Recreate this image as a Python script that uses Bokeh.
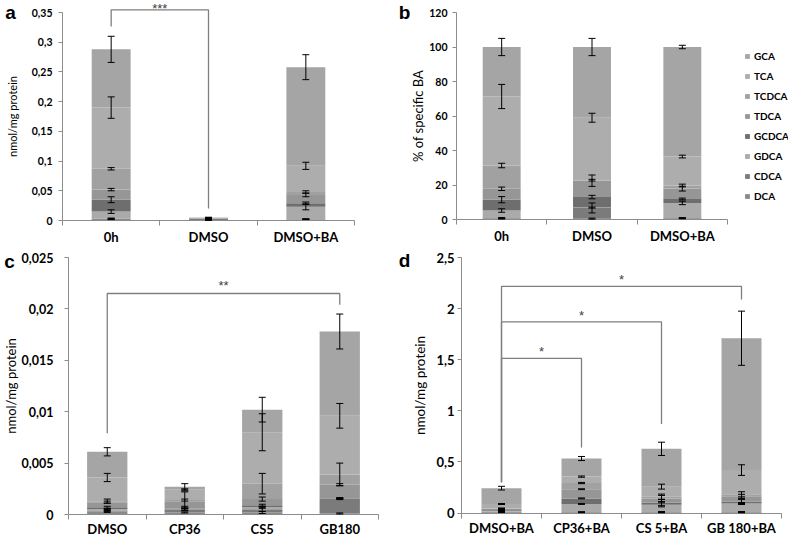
import numpy as np
from bokeh.plotting import figure
from bokeh.models import (ColumnDataSource, Whisker, TeeHead, FixedTicker, Legend,
                          LegendItem, Label)
from bokeh.layouts import column, row
from bokeh.embed import file_html
from bokeh.resources import INLINE

# ---------------- data ----------------
SERIES = ["DCA", "CDCA", "GDCA", "GCDCA", "TDCA", "TCDCA", "TCA", "GCA"]  # stacked bottom -> top
COLORS = ["#8a8a8a", "#7b7b7b", "#aaaaaa", "#6e6e6e", "#969696", "#a1a1a1", "#adadad", "#a5a5a5"]

# panel a : nmol/mg protein
CATS_A = ["0h", "DMSO", "DMSO+BA"]
A_VAL = {
    "DCA":   [0.0025, 0.0005, 0.0020],
    "CDCA":  [0.0005, 0.0020, 0.0003],
    "GDCA":  [0.0120, 0.0003, 0.0207],
    "GCDCA": [0.0200, 0.0007, 0.0060],
    "TDCA":  [0.0170, 0.0003, 0.0140],
    "TCDCA": [0.0350, 0.0002, 0.0050],
    "TCA":   [0.1030, 0.0008, 0.0440],
    "GCA":   [0.0980, 0.0002, 0.1660],
}
A_ERR = {
    "DCA":   [0.0010, 0.0004, 0.0005],
    "CDCA":  [0.0010, 0.0005, 0.0005],
    "GDCA":  [0.0030, 0.0004, 0.0050],
    "GCDCA": [0.0050, 0.0004, 0.0020],
    "TDCA":  [0.0020, 0.0004, 0.0030],
    "TCDCA": [0.0020, 0.0004, 0.0020],
    "TCA":   [0.0180, 0.0004, 0.0060],
    "GCA":   [0.0220, 0.0004, 0.0210],
}
A_TICKS = [0, 0.05, 0.1, 0.15, 0.2, 0.25, 0.3, 0.35]
A_TICK_LABELS = ["0", "0,05", "0,1", "0,15", "0,2", "0,25", "0,3", "0,35"]
A_BRACKETS = [(0, 1, 0.3545, 0.3265, 0.020, "***")]

# panel b : % of specific BA
CATS_B = ["0h", "DMSO", "DMSO+BA"]
B_VAL = {
    "DCA":   [0.6, 0.5, 0.7],
    "CDCA":  [0.2, 6.2, 0.1],
    "GDCA":  [4.4, 0.2, 8.8],
    "GCDCA": [6.3, 6.1, 2.3],
    "TDCA":  [6.3, 9.5, 6.0],
    "TCDCA": [13.5, 0.3, 1.8],
    "TCA":   [40.0, 36.2, 16.8],
    "GCA":   [28.7, 41.0, 63.5],
}
B_ERR = {
    "DCA":   [0.3, 0.3, 0.3],
    "CDCA":  [0.3, 2.9, 0.2],
    "GDCA":  [1.0, 0.3, 1.0],
    "GCDCA": [1.8, 1.0, 0.5],
    "TDCA":  [1.0, 3.3, 1.4],
    "TCDCA": [1.3, 0.5, 0.8],
    "TCA":   [7.0, 2.6, 0.8],
    "GCA":   [5.0, 5.0, 1.0],
}
B_TICKS = [0, 20, 40, 60, 80, 100, 120]
B_TICK_LABELS = ["0", "20", "40", "60", "80", "100", "120"]

# panel c : nmol/mg protein
CATS_C = ["DMSO", "CP36", "CS5", "GB180"]
C_VAL = {
    "DCA":   [0.0003, 0.0002, 0.0002, 0.0001],
    "CDCA":  [0.0001, 0.0003, 0.0003, 0.0014],
    "GDCA":  [0.0001, 0.0001, 0.0002, 0.00005],
    "GCDCA": [0.0002, 0.0001, 0.0002, 0.00005],
    "TDCA":  [0.0005, 0.0006, 0.0006, 0.0013],
    "TCDCA": [0.0001, 0.0001, 0.0015, 0.0010],
    "TCA":   [0.0023, 0.0010, 0.0050, 0.0057],
    "GCA":   [0.0025, 0.0003, 0.0022, 0.0082],
}
C_ERR = {
    "DCA":   [0.0001, 0.00005, 0.0001, 0.00005],
    "CDCA":  [0.0001, 0.0001, 0.0002, 0.00005],
    "GDCA":  [0.0001, 0.00005, 0.0001, 0.00005],
    "GCDCA": [0.0001, 0.0001, 0.0001, 0.00005],
    "TDCA":  [0.0001, 0.0009, 0.0002, 0.0001],
    "TCDCA": [0.0002, 0.0001, 0.0010, 0.0011],
    "TCA":   [0.0004, 0.0001, 0.0018, 0.0012],
    "GCA":   [0.0004, 0.0003, 0.0012, 0.0017],
}
C_TICKS = [0, 0.005, 0.01, 0.015, 0.02, 0.025]
C_TICK_LABELS = ["0", "0,005", "0,01", "0,015", "0,02", "0,025"]
C_BRACKETS = [(0, 3, 0.0215, 0.0079, 0.0204, "**")]

# panel d : nmol/mg protein
CATS_D = ["DMSO+BA", "CP36+BA", "CS 5+BA", "GB 180+BA"]
D_VAL = {
    "DCA":   [0.008, 0.006, 0.006, 0.006],
    "CDCA":  [0.004, 0.003, 0.004, 0.004],
    "GDCA":  [0.010, 0.079, 0.070, 0.083],
    "GCDCA": [0.008, 0.055, 0.022, 0.020],
    "TDCA":  [0.012, 0.090, 0.040, 0.050],
    "TCDCA": [0.003, 0.060, 0.018, 0.020],
    "TCA":   [0.043, 0.063, 0.098, 0.237],
    "GCA":   [0.155, 0.177, 0.370, 1.290],
}
D_ERR = {
    "DCA":   [0.004, 0.003, 0.004, 0.004],
    "CDCA":  [0.004, 0.003, 0.004, 0.004],
    "GDCA":  [0.005, 0.004, 0.020, 0.010],
    "GCDCA": [0.005, 0.004, 0.030, 0.020],
    "TDCA":  [0.004, 0.004, 0.030, 0.020],
    "TCDCA": [0.003, 0.006, 0.025, 0.025],
    "TCA":   [0.005, 0.006, 0.024, 0.052],
    "GCA":   [0.018, 0.020, 0.065, 0.265],
}
D_TICKS = [0, 0.5, 1, 1.5, 2, 2.5]
D_TICK_LABELS = ["0", "0,5", "1", "1,5", "2", "2,5"]
D_BRACKETS = [(0, 1, 1.513, 0.30, 0.64, "*"),
              (0, 2, 1.870, 0.30, 0.87, "*"),
              (0, 3, 2.218, 0.30, 2.09, "*")]

AXIS_GREY = "#8c8c8c"
FONT = "Lato"


def make_panel(cats, vals, errs, ticks, tick_labels, ylabel, letter, *,
               W, H, L, R, T, B, bar_w, tick_font, tick_standoff, ylab_font,
               ylab_standoff, xlab_standoff, letter_pos, brackets=(),
               star_px=6.0, star_at_top=False, legend_pos=None):
    """W,H figure size; L,R pixel x of the plot box; T pixel y of the top tick,
    B pixel y of zero (all measured from the figure's top-left)."""
    n = len(cats)
    ymax = ticks[-1]
    ux = n / (R - L)          # data units per pixel, x
    uy = ymax / (B - T)       # data units per pixel, y
    xr = (-L * ux, n + (W - R) * ux)
    yr = (-(H - B) * uy, ymax + T * uy)

    xs = [i + 0.5 for i in range(n)]
    p = figure(frame_width=W, frame_height=H, x_range=xr, y_range=yr,
               min_border=0, output_backend="svg", toolbar_location=None,
               background_fill_color="white", border_fill_color="white")
    p.outline_line_color = None
    p.grid.visible = False

    data = {"x": xs}
    data.update(vals)
    src = ColumnDataSource(data)
    rends = p.vbar_stack(SERIES, x="x", width=bar_w, source=src,
                         fill_color=COLORS, line_color=None)

    # error bars on each cumulative segment top
    cum = np.cumsum(np.array([vals[s] for s in SERIES]), axis=0)
    err = np.array([errs[s] for s in SERIES])
    base, lo, hi = [], [], []
    for i in range(len(SERIES)):
        for j in range(n):
            base.append(xs[j])
            lo.append(cum[i, j] - err[i, j])
            hi.append(cum[i, j] + err[i, j])
    wsrc = ColumnDataSource(dict(base=base, lower=lo, upper=hi))
    p.add_layout(Whisker(base="base", lower="lower", upper="upper", source=wsrc,
                         level="annotation", line_color="black", line_width=1,
                         upper_head=TeeHead(size=7, line_color="black", line_width=1),
                         lower_head=TeeHead(size=7, line_color="black", line_width=1)))

    # significance brackets
    for (i0, i1, h, f0, f1, stars) in brackets:
        x0, x1 = xs[i0], xs[i1]
        p.line([x0, x0, x1, x1], [f0, h, h, f1], line_color="#7f7f7f", line_width=1.3)
        if star_at_top:
            sy, base_mode = yr[1] - 0.5 * uy, "top"
        else:
            sy, base_mode = h + star_px * uy, "middle"
        p.add_layout(Label(x=(x0 + x1) / 2, y=sy, text=stars,
                           text_align="center", text_baseline=base_mode,
                           text_font="Liberation Sans", text_font_size="13px",
                           text_color="#404040"))

    # x axis (drawn at y = 0 inside the full-size frame)
    xa = p.xaxis[0]
    xa.fixed_location = 0
    xa.bounds = (0, n)
    xa.ticker = FixedTicker(ticks=xs, minor_ticks=list(range(n + 1)))
    xa.major_label_overrides = {x: c for x, c in zip(xs, cats)}
    xa.major_tick_line_color = None
    xa.major_tick_out = 0
    xa.major_tick_in = 0
    xa.minor_tick_out = 5
    xa.minor_tick_in = 0
    xa.minor_tick_line_color = AXIS_GREY
    xa.axis_line_color = AXIS_GREY
    xa.major_label_standoff = xlab_standoff
    xa.major_label_text_font = FONT
    xa.major_label_text_font_style = "bold"
    xa.major_label_text_font_size = "13px"
    xa.major_label_text_color = "black"

    # y axis (drawn at x = 0)
    ya = p.yaxis[0]
    ya.fixed_location = 0
    ya.ticker = FixedTicker(ticks=ticks, minor_ticks=[])
    ya.major_label_overrides = {t: l for t, l in zip(ticks, tick_labels)}
    ya.bounds = (0, ymax)
    ya.axis_line_color = AXIS_GREY
    ya.major_tick_line_color = AXIS_GREY
    ya.major_tick_out = 4
    ya.major_tick_in = 0
    ya.minor_tick_line_color = None
    ya.major_label_standoff = tick_standoff
    ya.major_label_text_font = FONT
    ya.major_label_text_font_style = "bold"
    ya.major_label_text_font_size = tick_font
    ya.major_label_text_color = "black"
    ya.axis_label = ylabel
    ya.axis_label_text_font = FONT
    ya.axis_label_text_font_style = "normal"
    ya.axis_label_text_font_size = ylab_font
    ya.axis_label_text_color = "black"
    ya.axis_label_standoff = ylab_standoff

    # panel letter
    lx, ly = letter_pos
    p.add_layout(Label(x=xr[0] + lx * ux, y=yr[1] - ly * uy, text=letter,
                       text_align="center", text_baseline="middle",
                       text_font="Liberation Sans", text_font_style="bold",
                       text_font_size="19px", text_color="black"))

    if legend_pos is not None:
        items = [LegendItem(label=s, renderers=[r])
                 for s, r in reversed(list(zip(SERIES, rends)))]
        lg = Legend(items=items, location=legend_pos, glyph_width=6, glyph_height=6,
                    label_height=14, spacing=6, padding=0, margin=0,
                    border_line_color=None, background_fill_alpha=0,
                    label_standoff=4, label_text_font=FONT,
                    label_text_font_style="bold", label_text_font_size="10px",
                    label_text_color="black")
        p.add_layout(lg)
    return p


pa = make_panel(CATS_A, A_VAL, A_ERR, A_TICKS, A_TICK_LABELS, "nmol/mg protein", "a",
                W=394, H=250, L=62, R=354, T=12, B=220, bar_w=0.40,
                tick_font="10.5px", tick_standoff=6, ylab_font="11px",
                ylab_standoff=10, xlab_standoff=3, letter_pos=(10, 12),
                brackets=A_BRACKETS, star_at_top=True)

pb = make_panel(CATS_B, B_VAL, B_ERR, B_TICKS, B_TICK_LABELS, "% of specific BA", "b",
                W=394, H=250, L=62, R=333, T=12, B=219, bar_w=0.42,
                tick_font="10.5px", tick_standoff=5, ylab_font="13px",
                ylab_standoff=0, xlab_standoff=3, letter_pos=(10, 12),
                legend_pos=(350, 47))

pc = make_panel(CATS_C, C_VAL, C_ERR, C_TICKS, C_TICK_LABELS, "nmol/mg protein", "c",
                W=394, H=287, L=68, R=378, T=7, B=264, bar_w=0.52,
                tick_font="12.5px", tick_standoff=11, ylab_font="13px",
                ylab_standoff=0, xlab_standoff=1, letter_pos=(9, 11),
                brackets=C_BRACKETS, star_px=8.0)

pd_ = make_panel(CATS_D, D_VAL, D_ERR, D_TICKS, D_TICK_LABELS, "nmol/mg protein", "d",
                 W=394, H=287, L=67, R=387, T=7, B=262.5, bar_w=0.50,
                 tick_font="13px", tick_standoff=3, ylab_font="13.5px",
                 ylab_standoff=5, xlab_standoff=2, letter_pos=(10, 9.5),
                 brackets=D_BRACKETS, star_px=6.5)

layout = column(row(pa, pb), row(pc, pd_))
open("out.html", "w").write(file_html(layout, INLINE))
